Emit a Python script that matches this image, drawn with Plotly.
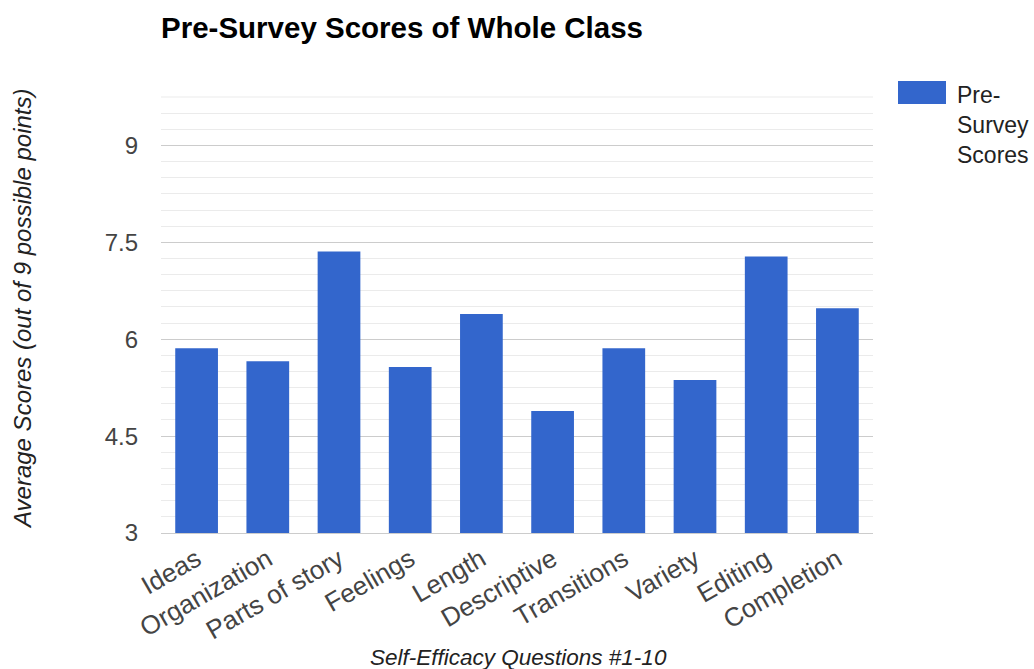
import plotly.graph_objects as go

categories = ["Ideas", "Organization", "Parts of story", "Feelings", "Length",
              "Descriptive", "Transitions", "Variety", "Editing", "Completion"]
scores = [5.86, 5.66, 7.36, 5.57, 6.39, 4.89, 5.86, 5.37, 7.28, 6.48]
y_ticks = [3, 4.5, 6, 7.5, 9]
y_tick_labels = ["3", "4.5", "6", "7.5", "9"]

BLUE = "#3366cc"
FONT = "Liberation Sans, Arial, sans-serif"

W, H = 1034, 669
L, R, T, B = 161, 873, 97, 533
pw, ph = R - L, B - T


def px(x):
    return (x - L) / pw


def py(y):
    return (B - y) / ph


fig = go.Figure()
fig.add_trace(go.Bar(x=categories, y=scores, marker=dict(color=BLUE, line=dict(width=0)),
                     name="Pre-Survey Scores", showlegend=False))

fig.update_layout(
    width=W, height=H,
    margin=dict(l=L, r=W - R, t=T, b=H - B, pad=0),
    paper_bgcolor="white", plot_bgcolor="white",
    bargap=0.4,
    font=dict(family=FONT, color="#444444"),
    title=dict(text="<b>Pre-Survey Scores of Whole Class</b>", x=L / W, xanchor="left",
               y=1 - 28 / H, yanchor="middle", yref="container",
               font=dict(family=FONT, size=29.5, color="#000000")),
)

fig.update_xaxes(showgrid=False, tickangle=-30, tickfont=dict(size=26, color="#444444"),
                 showline=True, linecolor="#cccccc", linewidth=1, ticks="")
fig.update_yaxes(range=[3, 9.75], tickmode="array", tickvals=y_ticks, ticktext=y_tick_labels,
                 tickfont=dict(size=24, color="#444444"), showgrid=True, gridcolor="#cccccc",
                 gridwidth=1, zeroline=False, ticks="", ticklabelstandoff=22,
                 minor=dict(tick0=3, dtick=0.25, showgrid=True, gridcolor="#ebebeb", gridwidth=1))

# top gridline
fig.add_shape(type="line", xref="paper", yref="paper", x0=0, x1=1, y0=1, y1=1,
              line=dict(color="#ebebeb", width=1), layer="below")

# axis titles
fig.add_annotation(text="<i>Average Scores (out of 9 possible points)</i>", xref="paper", yref="paper",
                   x=px(22), y=py(309), textangle=-90, showarrow=False, xanchor="center", yanchor="middle",
                   font=dict(family=FONT, size=24, color="#222222"))
fig.add_annotation(text="<i>Self-Efficacy Questions #1-10</i>", xref="paper", yref="paper",
                   x=px(518), y=py(657), showarrow=False, xanchor="center", yanchor="middle",
                   font=dict(family=FONT, size=22.5, color="#222222"))

# legend
fig.add_shape(type="rect", xref="paper", yref="paper", x0=px(898), x1=px(946), y0=py(104), y1=py(81),
              fillcolor=BLUE, line=dict(width=0))
fig.add_annotation(text="Pre-<br>Survey<br>Scores", xref="paper", yref="paper",
                   x=px(955), y=py(125), showarrow=False, xanchor="left", yanchor="middle", align="left",
                   font=dict(family=FONT, size=23, color="#222222"))

fig.write_html("out.html")
